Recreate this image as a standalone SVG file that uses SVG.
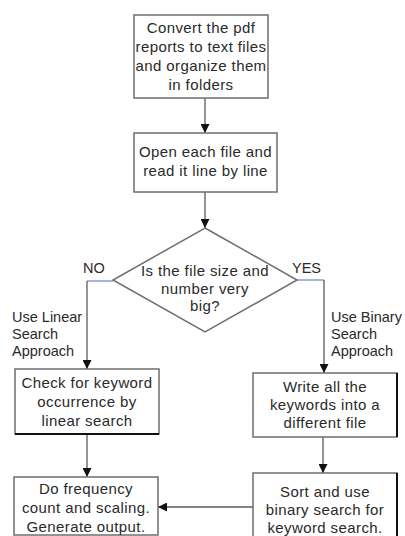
<svg xmlns="http://www.w3.org/2000/svg" width="405" height="536" viewBox="0 0 405 536">
<defs>
<marker id="ah" viewBox="0 0 10 10" refX="10" refY="5" markerWidth="9" markerHeight="9" markerUnits="userSpaceOnUse" orient="auto">
<path d="M0,0 L10,5 L0,10 z" fill="#111"/>
</marker>
</defs>
<style>
.box{fill:#fff;stroke:#6e6e6e;stroke-width:1.5}
.dk{stroke:#111;stroke-width:2;fill:none}
.t{font-family:"Liberation Sans",Arial,sans-serif;font-size:15px;letter-spacing:0.4px;fill:#2a2a2a;text-anchor:middle}
.l{font-family:"Liberation Sans",Arial,sans-serif;font-size:14.5px;fill:#2a2a2a}
.c{fill:none;stroke:#5a5a5a;stroke-width:1.3}
.b{fill:none;stroke:#8a9ccf;stroke-width:1.5}
</style>
<rect width="405" height="536" fill="#fff"/>
<g id="connectors">
<line class="c" x1="205" y1="98" x2="205" y2="133" marker-end="url(#ah)"/>
<line class="c" x1="205" y1="192" x2="205" y2="228" marker-end="url(#ah)"/>
<line class="b" x1="113" y1="281" x2="87" y2="281"/>
<line class="c" x1="87" y1="281" x2="87" y2="369" marker-end="url(#ah)"/>
<line class="b" x1="297" y1="280" x2="324" y2="280"/>
<line class="c" x1="324" y1="280" x2="324" y2="373" marker-end="url(#ah)"/>
<line class="c" x1="87" y1="434" x2="87" y2="477" marker-end="url(#ah)"/>
<line class="c" x1="323" y1="437" x2="323" y2="473" marker-end="url(#ah)"/>
<line class="c" x1="253" y1="507" x2="158" y2="507" marker-end="url(#ah)"/>
</g>
<g id="n1">
<rect class="box" x="134" y="15" width="134" height="83"/>
<text class="t" x="201" y="33">Convert the pdf</text>
<text class="t" x="201" y="52">reports to text files</text>
<text class="t" x="201" y="71">and organize them</text>
<text class="t" x="201" y="90">in folders</text>
</g>
<g id="n2">
<rect class="box" x="134" y="133" width="143" height="59"/>
<text class="t" x="205.5" y="157">Open each file and</text>
<text class="t" x="205.5" y="176">read it line by line</text>
</g>
<g id="n3">
<polygon class="box" points="205,228 297,280 205,332 113,280"/>
<text class="t" x="205" y="276">Is the file size and</text>
<text class="t" x="205" y="294">number very</text>
<text class="t" x="205" y="311">big?</text>
</g>
<g id="labels">
<text class="l" x="83" y="273">NO</text>
<text class="l" x="292" y="273">YES</text>
<text class="l" x="12" y="322">Use Linear</text>
<text class="l" x="12" y="339">Search</text>
<text class="l" x="12" y="356">Approach</text>
<text class="l" x="331" y="322">Use Binary</text>
<text class="l" x="331" y="339">Search</text>
<text class="l" x="331" y="356">Approach</text>
</g>
<g id="n4">
<rect class="box" x="15" y="369" width="144" height="65"/>
<line class="dk" x1="15" y1="434" x2="159" y2="434"/>
<text class="t" x="87" y="388">Check for keyword</text>
<text class="t" x="87" y="407">occurrence by</text>
<text class="t" x="87" y="426">linear search</text>
</g>
<g id="n5">
<rect class="box" x="253" y="373" width="144" height="64"/>
<line class="dk" x1="397" y1="373" x2="397" y2="437"/>
<text class="t" x="325" y="392">Write all the</text>
<text class="t" x="325" y="410">keywords into a</text>
<text class="t" x="325" y="428">different file</text>
</g>
<g id="n6">
<rect class="box" x="14" y="477" width="144" height="58"/>
<text class="t" x="86" y="494">Do frequency</text>
<text class="t" x="86" y="513">count and scaling.</text>
<text class="t" x="86" y="532">Generate output.</text>
</g>
<g id="n7">
<rect class="box" x="253" y="473" width="144" height="70"/>
<line class="dk" x1="397" y1="473" x2="397" y2="540"/>
<text class="t" x="325" y="497">Sort and use</text>
<text class="t" x="325" y="515">binary search for</text>
<text class="t" x="325" y="533">keyword search.</text>
</g>
</svg>
